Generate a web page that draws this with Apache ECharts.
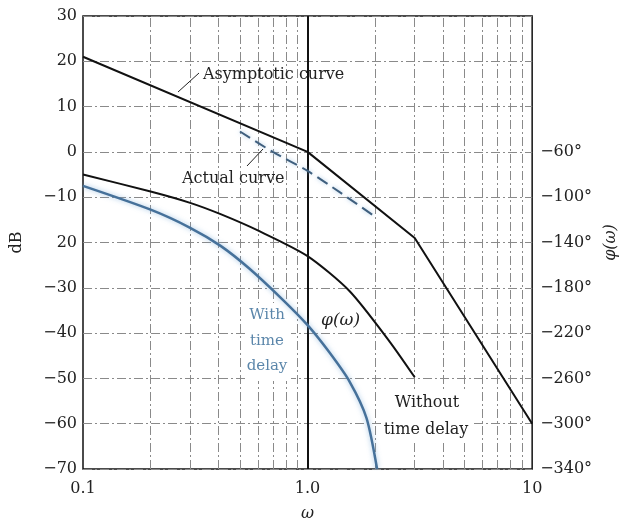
<!DOCTYPE html>
<html>
<head>
<meta charset="utf-8">
<script src="https://cdn.jsdelivr.net/npm/echarts@6/dist/echarts.min.js"></script>
<style>
html,body{margin:0;padding:0;background:#fff;}
#chart{width:627px;height:527px;}
</style>
</head>
<body>
<div id="chart"></div>
<script>
// ---- data ----
var asymOmega = [0.1, 1.0, 3.0, 10];
var asymDb = [21, 0, -19, -60];

var actualOmega = [0.5, 0.7, 1.0, 1.4, 2.0];
var actualDb = [4.5, 0, -4.2, -9, -14.3];

var phaseOmega = [0.1, 0.2, 0.3, 0.41, 0.61, 1.0, 1.54, 2.31, 3.0];
var phaseNoDelay = [-80, -95, -105, -115, -130, -152, -183, -227, -259];

var delayOmega = [0.1, 0.2, 0.3, 0.41, 0.55, 0.77, 1.0, 1.25, 1.54, 1.83, 2.04];
var phaseDelay = [-90, -111, -127, -143, -163, -190, -213, -237, -263, -295, -340];

var dbTickValues = [30, 20, 10, 0, -10, -20, -30, -40, -50, -60, -70];
var dbTickLabels = ['30', '20', '10', '0', '\u221210', '20', '\u221230', '\u221240', '\u221250', '\u221260', '\u221270'];

var phaseTickValues = [-60, -100, -140, -180, -220, -260, -300, -340];
var phaseTickLabels = ['\u221260\u00b0', '\u2212100\u00b0', '\u2212140\u00b0', '\u2212180\u00b0', '\u2212220\u00b0', '\u2212260\u00b0', '\u2212300\u00b0', '\u2212340\u00b0'];

var omegaTickValues = [0.1, 1, 10];
var omegaTickLabels = ['0.1', '1.0', '10'];

var minorGridOmega = [0.2, 0.3, 0.4, 0.5, 0.6, 0.7, 0.8, 0.9, 2, 3, 4, 5, 6, 7, 8, 9];

// ---- build ----
function pairs(xs, ys) { return xs.map(function (x, i) { return [x, ys[i]]; }); }
function lookup(vals, labs, v) {
  for (var i = 0; i < vals.length; i++) { if (Math.abs(vals[i] - v) < 1e-6) return labs[i]; }
  return '';
}

var FONT = 'DejaVu Serif';
var gridDash = [9, 3, 2, 3];

var chart = echarts.init(document.getElementById('chart'), null, { renderer: 'canvas' });
chart.setOption({
  animation: false,
  backgroundColor: '#fff',
  grid: { left: 83, top: 16, right: 94, bottom: 55, show: true, borderColor: '#111', borderWidth: 1.5, backgroundColor: 'transparent' },
  xAxis: {
    type: 'log', logBase: 10, min: 0.1, max: 10,
    name: '\u03c9', nameLocation: 'middle', nameGap: 37,
    nameTextStyle: { fontFamily: FONT, fontStyle: 'italic', fontSize: 16, color: '#222' },
    axisLine: { show: false }, axisTick: { show: false },
    splitLine: { show: false },
    axisLabel: { fontFamily: FONT, fontSize: 16, color: '#222', margin: 12,
      formatter: function (v) { return lookup(omegaTickValues, omegaTickLabels, v); } }
  },
  yAxis: [{
    type: 'value', min: -70, max: 30, interval: 10,
    name: 'dB', nameLocation: 'middle', nameGap: 58, nameRotate: 90,
    nameTextStyle: { fontFamily: FONT, fontSize: 16, color: '#222' },
    axisLine: { show: false }, axisTick: { show: false },
    splitLine: { show: true, lineStyle: { color: '#8a8a8a', width: 1, type: gridDash } },
    axisLabel: { fontFamily: FONT, fontSize: 16, color: '#222', margin: 6,
      formatter: function (v) { return lookup(dbTickValues, dbTickLabels, v); } }
  }, {
    type: 'value', min: -340, max: 60, interval: 40, position: 'right',
    name: '\u03c6(\u03c9)', nameLocation: 'middle', nameGap: 70, nameRotate: 90,
    nameTextStyle: { fontFamily: FONT, fontStyle: 'italic', fontSize: 16, color: '#222' },
    axisLine: { show: false }, axisTick: { show: false }, splitLine: { show: false },
    axisLabel: { fontFamily: FONT, fontSize: 16, color: '#222', margin: 8,
      formatter: function (v) { return lookup(phaseTickValues, phaseTickLabels, v); } }
  }],
  series: [{
    name: 'grid', type: 'line', data: [], silent: true, z: 1,
    markLine: {
      z: 1, silent: true, symbol: ['none', 'none'], label: { show: false },
      lineStyle: { color: '#8a8a8a', width: 1, type: gridDash },
      data: minorGridOmega.map(function (w) { return { xAxis: w }; })
    }
  }, {
    name: 'unit', type: 'line', data: [], silent: true, z: 3,
    markLine: {
      z: 3, silent: true, symbol: ['none', 'none'], label: { show: false },
      lineStyle: { color: '#111', width: 2, type: 'solid' },
      data: [{ xAxis: 1 }]
    }
  }, {
    name: 'Asymptotic curve', type: 'line', z: 3, symbol: 'none',
    data: pairs(asymOmega, asymDb),
    lineStyle: { color: '#111', width: 2 }
  }, {
    name: 'Actual curve', type: 'line', z: 3, symbol: 'none', smooth: 0.25,
    data: pairs(actualOmega, actualDb),
    lineStyle: { color: '#3f5f7e', width: 2, type: [12, 6], shadowColor: 'rgba(120,170,215,0.6)', shadowBlur: 4 }
  }, {
    name: 'Without time delay', type: 'line', yAxisIndex: 1, z: 3, symbol: 'none', smooth: 0.25,
    data: pairs(phaseOmega, phaseNoDelay),
    lineStyle: { color: '#111', width: 2 }
  }, {
    name: 'With time delay', type: 'line', yAxisIndex: 1, z: 3, symbol: 'none', smooth: 0.25,
    data: pairs(delayOmega, phaseDelay),
    lineStyle: { color: '#46719a', width: 2.5, shadowColor: 'rgba(120,170,215,0.7)', shadowBlur: 5 }
  }],
  graphic: [
    { type: 'text', left: 203, top: 67, z: 10, style: { text: 'Asymptotic curve', font: '16px "DejaVu Serif"', fill: '#222' } },
    { type: 'line', z: 10, shape: { x1: 199, y1: 73, x2: 178, y2: 92 }, style: { stroke: '#222', lineWidth: 1 } },
    { type: 'text', left: 182, top: 171, z: 10, style: { text: 'Actual curve', font: '16px "DejaVu Serif"', fill: '#222' } },
    { type: 'line', z: 10, shape: { x1: 247, y1: 166, x2: 263, y2: 149 }, style: { stroke: '#222', lineWidth: 1 } },
    { type: 'text', left: 321, top: 312, z: 10, style: { text: '\u03c6(\u03c9)', font: 'italic 17px "DejaVu Serif"', fill: '#222' } },
    { type: 'rect', z: 2, shape: { x: 246, y: 303, width: 45, height: 78 }, style: { fill: '#fff' } },
    { type: 'text', x: 267, y: 315, z: 10, style: { text: 'With', font: '15px "DejaVu Serif"', fill: '#5b86aa', align: 'center', verticalAlign: 'middle' } },
    { type: 'text', x: 267, y: 341, z: 10, style: { text: 'time', font: '15px "DejaVu Serif"', fill: '#5b86aa', align: 'center', verticalAlign: 'middle' } },
    { type: 'text', x: 267, y: 366, z: 10, style: { text: 'delay', font: '15px "DejaVu Serif"', fill: '#5b86aa', align: 'center', verticalAlign: 'middle' } },
    { type: 'rect', z: 2, shape: { x: 382, y: 390, width: 90, height: 52 }, style: { fill: '#fff' } },
    { type: 'text', x: 427, y: 403, z: 10, style: { text: 'Without', font: '16px "DejaVu Serif"', fill: '#222', align: 'center', verticalAlign: 'middle' } },
    { type: 'text', x: 426, y: 430, z: 10, style: { text: 'time delay', font: '16px "DejaVu Serif"', fill: '#222', align: 'center', verticalAlign: 'middle' } }
  ]
});
</script>
</body>
</html>
